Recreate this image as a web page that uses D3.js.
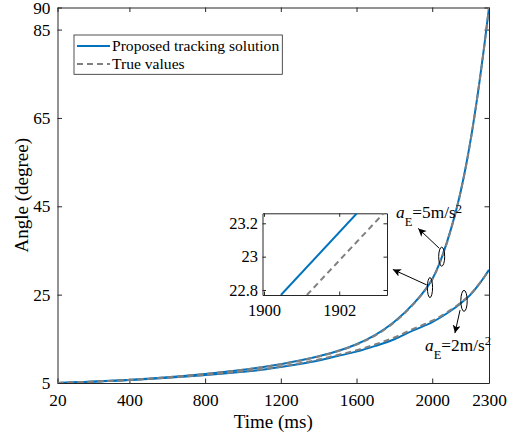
<!DOCTYPE html>
<html>
<head>
<meta charset="utf-8">
<script src="https://cdn.jsdelivr.net/npm/d3@7"></script>
</head>
<body style="margin:0;background:#fff">
<svg id="chart" width="516" height="438"></svg>
<script>
// Sample instants (ms)
const timeMs = [20, 100, 200, 300, 400, 500, 600, 700, 800, 900, 1000, 1100, 1200, 1300,
  1400, 1500, 1600, 1700, 1800, 1900, 1950, 2000, 2050, 2100, 2150, 2200, 2250, 2275, 2300];

// a_E = 5 m/s^2
const proposed5 = [5.0, 5.13, 5.31, 5.50, 5.70, 5.98, 6.30, 6.65, 7.04, 7.49, 7.99, 8.58, 9.25, 10.07,
  11.05, 12.24, 13.78, 15.90, 18.85, 22.9, 25.4, 28.5, 33.4, 40.0, 48.3, 59.3, 73.3, 81.3, 90.0];
const true5 = [5.0, 5.13, 5.31, 5.50, 5.71, 5.99, 6.31, 6.66, 7.05, 7.50, 8.00, 8.58, 9.24, 10.04,
  11.00, 12.17, 13.70, 15.80, 18.75, 22.8, 25.3, 28.4, 33.3, 39.9, 48.2, 59.2, 73.2, 81.2, 90.0];

// a_E = 2 m/s^2
const proposed2 = [5.0, 5.12, 5.28, 5.46, 5.66, 5.90, 6.17, 6.47, 6.80, 7.15, 7.55, 8.00, 8.60, 9.30,
  10.10, 11.10, 12.10, 13.40, 14.90, 16.90, 17.80, 18.80, 20.00, 21.40, 23.00, 24.90, 27.50, 29.00, 30.60];
const true2 = [5.0, 5.12, 5.29, 5.47, 5.68, 5.92, 6.20, 6.52, 6.86, 7.22, 7.64, 8.10, 8.72, 9.45,
  10.30, 11.35, 12.40, 13.75, 15.30, 17.25, 18.15, 19.10, 20.25, 21.60, 23.15, 25.00, 27.55, 29.00, 30.60];

const xTickValues = [20, 400, 800, 1200, 1600, 2000, 2300];
const yTickValues = [5, 25, 45, 65, 85, 90];

// Zoomed detail near t = 1900 ms (a_E = 5 m/s^2)
const insetXTicks = [1900, 1902];
const insetYTicks = [22.8, 23, 23.2];
const insetProposedTime = [1900.45, 1902.47];
const insetProposedAngle = [22.77, 23.26];
const insetTrueTime = [1901.14, 1903.18];
const insetTrueAngle = [22.77, 23.26];

const legendLabels = ["Proposed tracking solution", "True values"];

const BLUE = "#0072BD", GRAY = "#808080", AX = "#262626";
const FONT = "Liberation Serif";
const FS = 17.3;

const svg = d3.select("#chart");
const x = d3.scaleLinear([20, 2300], [57.5, 489]);
const y = d3.scaleLinear([5, 90], [383, 7.5]);

const defs = svg.append("defs");
defs.append("clipPath").attr("id", "plotClip")
  .append("rect").attr("x", x(20)).attr("y", y(90)).attr("width", x(2300) - x(20)).attr("height", y(5) - y(90));
defs.append("marker")
  .attr("id", "head").attr("viewBox", "0 0 10 10").attr("refX", 10).attr("refY", 5)
  .attr("markerWidth", 10).attr("markerHeight", 8).attr("markerUnits", "userSpaceOnUse")
  .attr("orient", "auto")
  .append("path").attr("d", "M0,0 L10,5 L0,10 L2.5,5 Z").attr("fill", "#000");

function serifText(sel, size) {
  return sel.style("font-family", FONT).style("font-size", size + "px").style("fill", "#000");
}

function styleAxis(g, size) {
  g.attr("font-family", null).attr("font-size", null);
  g.selectAll("path.domain").attr("stroke", AX).attr("stroke-width", 1);
  g.selectAll(".tick line").attr("stroke", AX).attr("stroke-width", 1);
  serifText(g.selectAll("text"), size || FS);
}

// Axes with inward ticks on all four sides
svg.append("g").attr("transform", `translate(0,${y(5)})`)
  .call(d3.axisBottom(x).tickValues(xTickValues).tickSize(-4.5).tickSizeOuter(0).tickPadding(10.5).tickFormat(d3.format("d")))
  .call(g => styleAxis(g, FS));
svg.append("g").attr("transform", `translate(0,${y(90)})`)
  .call(d3.axisTop(x).tickValues(xTickValues).tickSize(-4.5).tickSizeOuter(0).tickFormat(""))
  .call(g => styleAxis(g, FS));
svg.append("g").attr("transform", `translate(${x(20)},0)`)
  .call(d3.axisLeft(y).tickValues(yTickValues).tickSize(-4.5).tickSizeOuter(0).tickPadding(7).tickFormat(d3.format("d")))
  .call(g => styleAxis(g, FS));
svg.append("g").attr("transform", `translate(${x(2300)},0)`)
  .call(d3.axisRight(y).tickValues(yTickValues).tickSize(-4.5).tickSizeOuter(0).tickFormat(""))
  .call(g => styleAxis(g, FS));

// Axis titles
serifText(svg.append("text").attr("x", (x(20) + x(2300)) / 2).attr("y", 428).attr("text-anchor", "middle"), 19)
  .text("Time (ms)");
serifText(svg.append("text").attr("transform", `translate(28,${(y(5) + y(90)) / 2}) rotate(-90)`)
  .attr("text-anchor", "middle"), 19).text("Angle (degree)");

// Curves
const line = d3.line().x(d => x(d[0])).y(d => y(d[1])).curve(d3.curveMonotoneX);
const curves = svg.append("g").attr("clip-path", "url(#plotClip)");
[proposed5, proposed2].forEach(vals => {
  curves.append("path").attr("d", line(timeMs.map((t, i) => [t, vals[i]])))
    .attr("fill", "none").attr("stroke", BLUE).attr("stroke-width", 2);
});
[true5, true2].forEach(vals => {
  curves.append("path").attr("d", line(timeMs.map((t, i) => [t, vals[i]])))
    .attr("fill", "none").attr("stroke", GRAY).attr("stroke-width", 2).attr("stroke-dasharray", "6,4");
});

// Legend
const lg = svg.append("g");
lg.append("rect").attr("x", 74).attr("y", 35).attr("width", 208.3).attr("height", 39.3)
  .attr("fill", "#fff").attr("stroke", AX).attr("stroke-width", 0.8);
const legendStyles = [{ c: BLUE, dash: null }, { c: GRAY, dash: "6,4" }];
legendLabels.forEach((lab, i) => {
  const yy = 46 + i * 18;
  lg.append("line").attr("x1", 77).attr("x2", 110).attr("y1", yy).attr("y2", yy)
    .attr("stroke", legendStyles[i].c).attr("stroke-width", 2).attr("stroke-dasharray", legendStyles[i].dash);
  serifText(lg.append("text").attr("x", 112).attr("y", yy + 5.3), 15.6).text(lab);
});

// Annotation ellipses around the circled spots
const circled = [
  { t: 2050, a: 33.6, rx: 3, ry: 9.5 },
  { t: 1988, a: 26.6, rx: 2.6, ry: 10 },
  { t: 2168, a: 23.6, rx: 3.2, ry: 10.5 }
];
svg.append("g").selectAll("ellipse").data(circled).join("ellipse")
  .attr("cx", d => x(d.t)).attr("cy", d => y(d.a)).attr("rx", d => d.rx).attr("ry", d => d.ry)
  .attr("fill", "none").attr("stroke", "#000").attr("stroke-width", 1);

// Arrows from circled spots
const arrows = [
  { t0: 2037, a0: 35.5, t1: 1926, a1: 40.0 },
  { t0: 1971, a0: 27.2, t1: 1792, a1: 30.7 },
  { t0: 2147, a0: 21.5, t1: 2120, a1: 16.3 }
];
svg.append("g").selectAll("line").data(arrows).join("line")
  .attr("x1", d => x(d.t0)).attr("y1", d => y(d.a0)).attr("x2", d => x(d.t1)).attr("y2", d => y(d.a1))
  .attr("stroke", "#000").attr("stroke-width", 1).attr("marker-end", "url(#head)");

// Acceleration labels
function accelLabel(t, a, value) {
  const tx = serifText(svg.append("text").attr("x", x(t)).attr("y", y(a)), FS);
  tx.append("tspan").style("font-style", "italic").text("a");
  tx.append("tspan").style("font-size", "12.5px").attr("dy", 8).text("E");
  tx.append("tspan").attr("dy", -8).text("=" + value + "m/s");
  tx.append("tspan").style("font-size", "12.5px").attr("dy", -5.5).text("2");
}
accelLabel(1809, 42.3, 5);
accelLabel(1962, 12.3, 2);

// Inset axes
const ix = d3.scaleLinear([1899.96, 1903.27], [262.5, 387]);
const iy = d3.scaleLinear([22.77, 23.26], [295, 213.3]);
const inset = svg.append("g");
const ibox = { x: ix.range()[0], y: iy.range()[1], w: ix.range()[1] - ix.range()[0], h: iy.range()[0] - iy.range()[1] };
inset.append("rect").attr("x", ibox.x).attr("y", ibox.y).attr("width", ibox.w).attr("height", ibox.h).attr("fill", "#fff");
defs.append("clipPath").attr("id", "insetClip")
  .append("rect").attr("x", ibox.x).attr("y", ibox.y).attr("width", ibox.w).attr("height", ibox.h);

const ISF = 16.5;
inset.append("g").attr("transform", `translate(0,${iy.range()[0]})`)
  .call(d3.axisBottom(ix).tickValues(insetXTicks).tickSize(-3.5).tickSizeOuter(0).tickPadding(9).tickFormat(d3.format("d")))
  .call(g => styleAxis(g, ISF));
inset.append("g").attr("transform", `translate(0,${iy.range()[1]})`)
  .call(d3.axisTop(ix).tickValues(insetXTicks).tickSize(-3.5).tickSizeOuter(0).tickFormat(""))
  .call(g => styleAxis(g, ISF));
inset.append("g").attr("transform", `translate(${ix.range()[0]},0)`)
  .call(d3.axisLeft(iy).tickValues(insetYTicks).tickSize(-3.5).tickSizeOuter(0).tickPadding(4.5).tickFormat(d => String(d)))
  .call(g => styleAxis(g, ISF));
inset.append("g").attr("transform", `translate(${ix.range()[1]},0)`)
  .call(d3.axisRight(iy).tickValues(insetYTicks).tickSize(-3.5).tickSizeOuter(0).tickFormat(""))
  .call(g => styleAxis(g, ISF));

const iline = d3.line().x(d => ix(d[0])).y(d => iy(d[1]));
const ilines = inset.append("g").attr("clip-path", "url(#insetClip)");
ilines.append("path").attr("d", iline(insetProposedTime.map((t, i) => [t, insetProposedAngle[i]])))
  .attr("fill", "none").attr("stroke", BLUE).attr("stroke-width", 2);
ilines.append("path").attr("d", iline(insetTrueTime.map((t, i) => [t, insetTrueAngle[i]])))
  .attr("fill", "none").attr("stroke", GRAY).attr("stroke-width", 2).attr("stroke-dasharray", "6,4");
</script>
</body>
</html>
